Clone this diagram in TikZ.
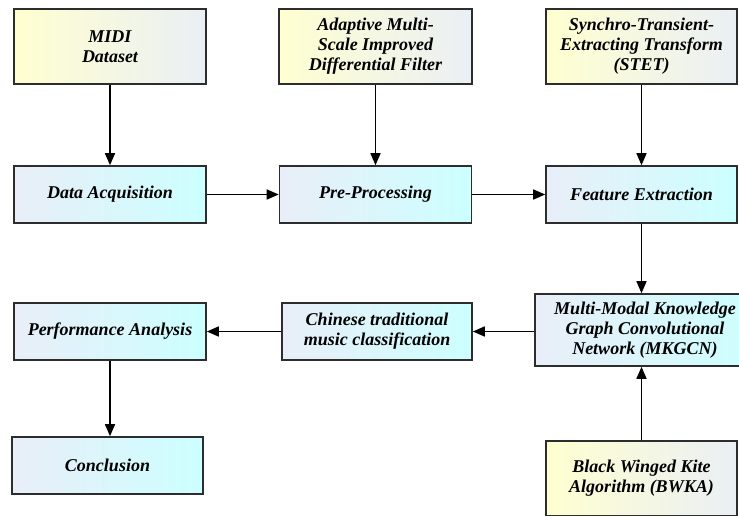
\documentclass[tikz,border=0pt]{standalone}
\usepackage{fontspec}
\setmainfont{Liberation Serif}
\usetikzlibrary{arrows.meta}
\definecolor{ylwL}{RGB}{255,255,208}
\definecolor{ylwR}{RGB}{234,239,245}
\definecolor{bluL}{RGB}{233,238,248}
\definecolor{cynR}{RGB}{204,255,255}
\definecolor{edge}{RGB}{45,45,45}
\tikzset{
  box/.style={draw=edge, line width=1.6pt, align=center, inner sep=2pt,
    font=\fontsize{18}{20}\selectfont\bfseries\itshape},
  ybox/.style={box, left color=ylwL, right color=ylwR},
  cbox/.style={box, left color=bluL, right color=cynR},
  arr/.style={draw=black, line width=1.6pt, -{Triangle[length=12pt,width=10pt]}}
}
\begin{document}
\begin{tikzpicture}[x=1pt,y=-1pt]
\useasboundingbox (0,0) rectangle (739,515);
% top row
\node[ybox, minimum width=192pt, minimum height=75pt] (midi) at (110,46.5) {MIDI\\Dataset};
\node[ybox, minimum width=193pt, minimum height=75pt] (amsidf) at (375.5,46.5) {Adaptive Multi-\\Scale Improved\\Differential Filter};
\node[ybox, minimum width=191pt, minimum height=75pt] (stet) at (641.5,46.5) {Synchro-Transient-\\Extracting Transform\\(STET)};
% second row
\node[cbox, minimum width=192pt, minimum height=57pt] (daq) at (110,194.5) {Data Acquisition};
\node[cbox, minimum width=192pt, minimum height=57pt] (pre) at (375.5,194.5) {Pre-Processing};
\node[cbox, minimum width=191pt, minimum height=57pt] (fe) at (641.5,194.5) {Feature Extraction};
% third row
\node[cbox, minimum width=192pt, minimum height=57pt] (perf) at (110,331.5) {Performance Analysis};
\node[cbox, minimum width=190pt, minimum height=57pt] (ctmc) at (377,331.5) {Chinese traditional\\music classification};
\node[cbox, minimum width=220pt, minimum height=72pt] (mkgcn) at (645,330) {Multi-Modal Knowledge\\Graph Convolutional\\Network (MKGCN)};
% bottom
\node[cbox, minimum width=191pt, minimum height=57pt] (conc) at (107.5,465.5) {Conclusion};
\node[ybox, minimum width=191pt, minimum height=75pt] (bwka) at (641.5,478.5) {Black Winged Kite\\Algorithm (BWKA)};
% arrows
\draw[arr] (midi.south) -- (midi.south |- daq.north);
\draw[arr] (amsidf.south) -- (amsidf.south |- pre.north);
\draw[arr] (stet.south) -- (stet.south |- fe.north);
\draw[arr] (daq.east) -- (pre.west);
\draw[arr] (pre.east) -- (fe.west);
\draw[arr] (fe.south) -- (fe.south |- mkgcn.north);
\draw[arr] (mkgcn.west |- ctmc.east) -- (ctmc.east);
\draw[arr] (ctmc.west) -- (perf.east);
\draw[arr] (perf.south) -- (perf.south |- conc.north);
\draw[arr] (bwka.north) -- (bwka.north |- mkgcn.south);
\end{tikzpicture}
\end{document}
